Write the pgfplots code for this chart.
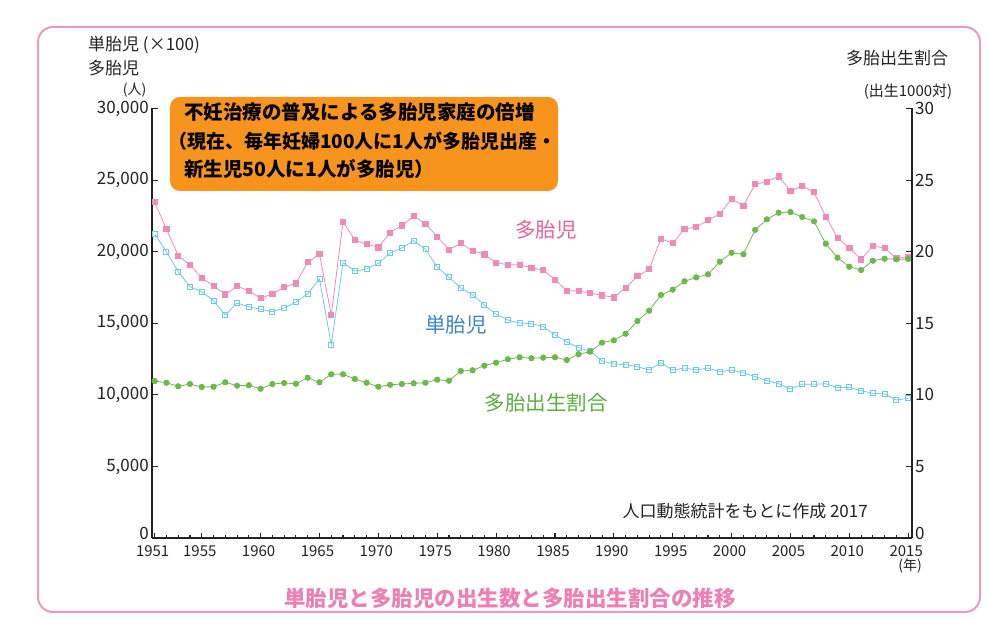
\documentclass[border=0pt]{standalone}
\usepackage{pgfplots}
\pgfplotsset{compat=1.18}
\usepackage{fontspec}
\setmainfont{Noto Sans CJK JP}
\definecolor{pinkc}{HTML}{F08BB8}
\definecolor{pinklab}{HTML}{E4609E}
\definecolor{bluec}{HTML}{6CCBE2}
\definecolor{bluelab}{HTML}{3A86C2}
\definecolor{greenc}{HTML}{6CB94B}
\definecolor{greenlab}{HTML}{5AAE3F}
\definecolor{orangec}{HTML}{F7941E}
\definecolor{framec}{HTML}{E79AC2}
\definecolor{titlec}{HTML}{EC80B5}
\definecolor{axisc}{HTML}{222222}
\newcommand{\fs}[1]{\fontsize{#1}{#1}\selectfont}
\begin{document}
\begin{tikzpicture}
\path (0pt,0pt) rectangle (989pt,619pt);
\draw[framec, line width=2pt, rounded corners=15pt] (38pt,592pt) rectangle (980pt,7pt);
% orange box
\fill[orangec, rounded corners=10pt] (170pt,522pt) rectangle (558pt,428pt);
\node[anchor=west, inner sep=0pt, font=\fs{19.5}\bfseries] at (184pt,507pt) {不妊治療の普及による多胎児家庭の倍増};
\node[anchor=west, inner sep=0pt, font=\fs{19}\bfseries] at (168pt,478pt) {（現在、毎年妊婦100人に1人が多胎児出産・};
\node[anchor=west, inner sep=0pt, font=\fs{19.5}\bfseries] at (184pt,450pt) {新生児50人に1人が多胎児）};
\begin{axis}[
  at={(152.3pt,80.9pt)}, anchor=south west, scale only axis,
  width=759.4pt, height=429.6pt,
  xmin=1950.8, xmax=2015.3, ymin=0, ymax=30000,
  scaled x ticks=false, scaled y ticks=false,
  axis x line=bottom, axis y line=left,
  axis line style={-, line width=2pt, color=axisc},
  tick align=inside,
  major tick length=5.5pt, minor tick length=3pt,
  every tick/.style={axisc, line width=1.1pt},
  xtick={1951,1955,1960,1965,1970,1975,1980,1985,1990,1995,2000,2005,2010,2015},
  xticklabels={1951,1955,1960,1965,1970,1975,1980,1985,1990,1995,2000,2005,2010,2015},
  minor xtick={1952,1953,1954,1956,1957,1958,1959,1961,1962,1963,1964,1966,1967,1968,1969,1971,1972,1973,1974,1976,1977,1978,1979,1981,1982,1983,1984,1986,1987,1988,1989,1991,1992,1993,1994,1996,1997,1998,1999,2001,2002,2003,2004,2006,2007,2008,2009,2011,2012,2013,2014},
  ytick={5000,10000,15000,20000,25000,30000},
  yticklabels={{5,000},{10,000},{15,000},{20,000},{25,000},{30,000}},
  extra y ticks={0}, extra y tick labels={0},
  extra y tick style={yticklabel style={yshift=5pt}},
  xticklabel style={font=\fs{15}, text=axisc, yshift=-4pt, xshift=-2pt},
  yticklabel style={font=\fs{17}, text=axisc},
  clip=false,
]
\addplot[color=bluec, line width=0.8pt, mark=square, mark size=2.5pt, mark options={solid, fill=white, draw=bluec, line width=0.9pt}] coordinates {
(1951,21257)(1952,19979)(1953,18603)(1954,17556)(1955,17207)(1956,16578)(1957,15580)(1958,16418)(1959,16159)(1960,15978)
(1961,15810)(1962,16068)(1963,16487)(1964,17067)(1965,18094)(1966,13506)(1967,19232)(1968,18652)(1969,18792)(1970,19190)
(1971,19909)(1972,20258)(1973,20768)(1974,20168)(1975,18931)(1976,18212)(1977,17465)(1978,16997)(1979,16278)(1980,15628)
(1981,15230)(1982,15021)(1983,14972)(1984,14763)(1985,14204)(1986,13694)(1987,13296)(1988,13045)(1989,12367)(1990,12158)
(1991,12109)(1992,11969)(1993,11739)(1994,12249)(1995,11739)(1996,11878)(1997,11739)(1998,11878)(1999,11620)(2000,11739)
(2001,11550)(2002,11271)(2003,10992)(2004,10782)(2005,10412)(2006,10740)(2007,10740)(2008,10782)(2009,10503)(2010,10531)
(2011,10293)(2012,10112)(2013,10063)(2014,9644)(2015,9763)};
\addplot[color=pinkc, line width=0.8pt, mark=square*, mark size=2.6pt, mark options={solid, fill=pinkc, draw=pinkc}] coordinates {
(1951,23450)(1952,21585)(1953,19720)(1954,19071)(1955,18184)(1956,17605)(1957,17025)(1958,17584)(1959,17277)(1960,16746)
(1961,17067)(1962,17514)(1963,17793)(1964,19260)(1965,19840)(1966,15580)(1967,22095)(1968,20817)(1969,20517)(1970,20307)
(1971,21327)(1972,21843)(1973,22472)(1974,21955)(1975,21047)(1976,20140)(1977,20587)(1978,20070)(1979,19818)(1980,19232)
(1981,19092)(1982,19071)(1983,18883)(1984,18710)(1985,18045)(1986,17277)(1987,17256)(1988,17116)(1989,16955)(1990,16815)
(1991,17486)(1992,18282)(1993,18771)(1994,20908)(1995,20587)(1996,21585)(1997,21725)(1998,22193)(1999,22633)(2000,23690)
(2001,23212)(2002,24707)(2003,24889)(2004,25265)(2005,24218)(2006,24609)(2007,24148)(2008,22444)(2009,20977)(2010,20258)
(2011,19469)(2012,20398)(2013,20258)(2014,19539)(2015,19651)};
\end{axis}
\begin{axis}[
  at={(152.3pt,80.9pt)}, anchor=south west, scale only axis,
  width=759.4pt, height=429.6pt,
  xmin=1950.8, xmax=2015.3, ymin=0, ymax=30,
  axis x line=none, axis y line=right,
  axis line style={-, line width=2pt, color=axisc},
  tick align=inside,
  major tick length=5.5pt,
  every tick/.style={axisc, line width=1.1pt},
  xtick=\empty,
  ytick={5,10,15,20,25,30},
  yticklabels={5,10,15,20,25,30},
  extra y ticks={0}, extra y tick labels={0},
  extra y tick style={yticklabel style={yshift=5pt}},
  yticklabel style={font=\fs{17}, text=axisc},
  clip=false,
]
\addplot[color=greenc, line width=0.8pt, mark=*, mark size=2.7pt, mark options={solid, fill=greenc, draw=greenc}] coordinates {
(1951,10.97)(1952,10.85)(1953,10.60)(1954,10.76)(1955,10.55)(1956,10.57)(1957,10.88)(1958,10.64)(1959,10.67)(1960,10.43)
(1961,10.76)(1962,10.83)(1963,10.78)(1964,11.20)(1965,10.88)(1966,11.44)(1967,11.44)(1968,11.11)(1969,10.85)(1970,10.57)
(1971,10.71)(1972,10.76)(1973,10.81)(1974,10.85)(1975,11.06)(1976,10.99)(1977,11.67)(1978,11.72)(1979,12.04)(1980,12.25)
(1981,12.49)(1982,12.63)(1983,12.56)(1984,12.60)(1985,12.63)(1986,12.44)(1987,12.84)(1988,13.02)(1989,13.65)(1990,13.81)
(1991,14.27)(1992,15.16)(1993,15.88)(1994,16.98)(1995,17.35)(1996,17.93)(1997,18.21)(1998,18.42)(1999,19.30)(2000,19.92)
(2001,19.82)(2002,21.52)(2003,22.26)(2004,22.72)(2005,22.77)(2006,22.42)(2007,22.12)(2008,20.56)(2009,19.58)(2010,18.95)
(2011,18.72)(2012,19.37)(2013,19.51)(2014,19.47)(2015,19.49)};
\end{axis}
% axis titles
\node[anchor=west, inner sep=0pt, font=\fs{17}, text=axisc] at (88pt,574pt) {単胎児 (×100)};
\node[anchor=west, inner sep=0pt, font=\fs{17}, text=axisc] at (88pt,551pt) {多胎児};
\node[inner sep=0pt, font=\fs{14}, text=axisc] at (134.5pt,529pt) {(人)};
\node[inner sep=0pt, font=\fs{17}, text=axisc] at (897pt,561pt) {多胎出生割合};
\node[inner sep=0pt, font=\fs{15}, text=axisc] at (908pt,527pt) {(出生1000対)};
\node[inner sep=0pt, font=\fs{14}, text=axisc] at (910pt,53pt) {(年)};
\node[anchor=east, inner sep=0pt, font=\fs{17}, text=axisc] at (868pt,108pt) {人口動態統計をもとに作成 2017};
% series labels
\node[inner sep=0pt, font=\fs{20.5}, text=pinklab] at (546pt,389pt) {多胎児};
\node[inner sep=0pt, font=\fs{20.5}, text=bluelab] at (456pt,294pt) {単胎児};
\node[inner sep=0pt, font=\fs{20.5}, text=greenlab] at (546pt,216pt) {多胎出生割合};
% title
\node[inner sep=0pt, font=\fs{21.5}\bfseries, text=titlec] at (510pt,21pt) {単胎児と多胎児の出生数と多胎出生割合の推移};
\end{tikzpicture}
\end{document}
